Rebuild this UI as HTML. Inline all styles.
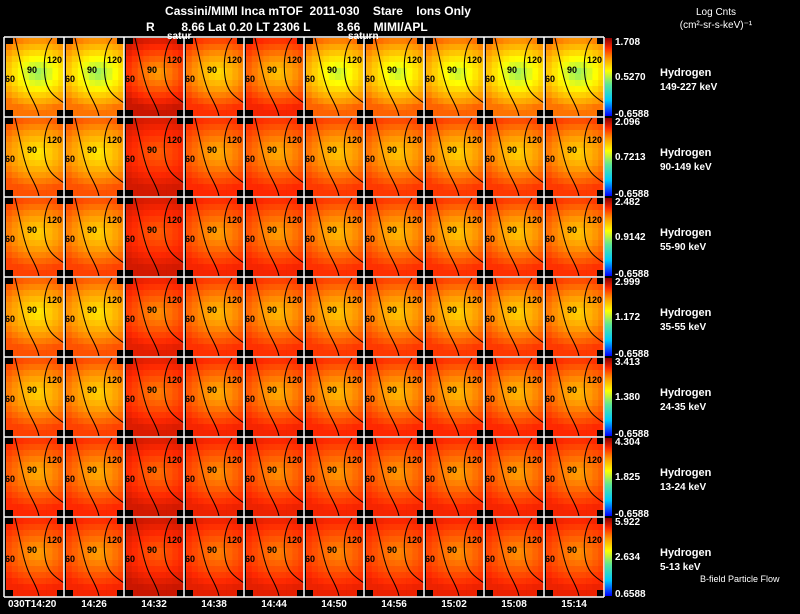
<!DOCTYPE html>
<html><head><meta charset="utf-8"><style>
body{margin:0;background:#000;width:800px;height:609px;overflow:hidden;font-family:"Liberation Sans",sans-serif;}
svg text{font-family:"Liberation Sans",sans-serif;white-space:pre;}
</style></head><body>
<svg id="chart" width="800" height="609" xmlns="http://www.w3.org/2000/svg">
<rect width="800" height="609" fill="#000"/>
<text x="318" y="15" fill="#fff" font-size="12" font-weight="bold" text-anchor="middle">Cassini/MIMI Inca mTOF  2011-030    Stare    Ions Only</text>
<text x="146" y="31" fill="#fff" font-size="12" font-weight="bold">R        8.66 Lat 0.20 LT 2306 L        8.66    MIMI/APL</text>
<text x="716" y="15" fill="#fff" font-size="10" text-anchor="middle">Log Cnts</text>
<text x="716" y="28" fill="#fff" font-size="10" text-anchor="middle">(cm²-sr-s-keV)⁻¹</text>
<g id="panels"></g>
<g id="overlay"></g>
<text x="700" y="582" fill="#fff" font-size="9">B-field Particle Flow</text>
</svg>
<script>
const times=["030T14:20","14:26","14:32","14:38","14:44","14:50","14:56","15:02","15:08","15:14"];
const energies=["149-227 keV","90-149 keV","55-90 keV","35-55 keV","24-35 keV","13-24 keV","5-13 keV"];
const cbTop=["1.708","2.096","2.482","2.999","3.413","4.304","5.922"];
const cbMid=["0.5270","0.7213","0.9142","1.172","1.380","1.825","2.634"];
const cbBot=["-0.6588","-0.6588","-0.6588","-0.6588","-0.6588","-0.6588","0.6588"];
const centerLevel=[
 [0.45,0.45,0.72,0.62,0.66,0.50,0.50,0.50,0.46,0.45],
 [0.60,0.60,0.80,0.70,0.70,0.66,0.66,0.64,0.64,0.64],
 [0.64,0.64,0.80,0.72,0.72,0.68,0.68,0.66,0.66,0.66],
 [0.60,0.61,0.74,0.68,0.68,0.66,0.66,0.64,0.64,0.64],
 [0.64,0.64,0.76,0.70,0.70,0.68,0.68,0.68,0.68,0.68],
 [0.70,0.70,0.78,0.74,0.74,0.73,0.73,0.72,0.72,0.72],
 [0.72,0.72,0.80,0.76,0.76,0.75,0.75,0.74,0.74,0.74]];
const edgeLevel=[
 [0.78,0.78,0.93,0.86,0.88,0.80,0.80,0.80,0.78,0.78],
 [0.82,0.82,0.92,0.87,0.87,0.85,0.85,0.85,0.85,0.85],
 [0.84,0.84,0.92,0.88,0.88,0.86,0.86,0.86,0.86,0.86],
 [0.82,0.82,0.90,0.86,0.86,0.85,0.85,0.85,0.85,0.85],
 [0.84,0.84,0.91,0.88,0.88,0.87,0.87,0.87,0.87,0.87],
 [0.87,0.87,0.92,0.89,0.89,0.88,0.88,0.88,0.88,0.88],
 [0.88,0.88,0.93,0.90,0.90,0.89,0.89,0.89,0.89,0.89]];
const NS="http://www.w3.org/2000/svg";
const X0=5,PW=60,Y0=37,PH=80,NC=10,NR=13;
const stops=[[0,[0,0,255]],[0.2,[0,200,255]],[0.4,[90,230,150]],[0.58,[255,255,0]],[0.74,[255,150,0]],[0.87,[255,40,0]],[1,[140,0,0]]];
function cmap(t){t=Math.max(0,Math.min(1,t));for(let i=1;i<stops.length;i++){if(t<=stops[i][0]){const a=stops[i-1],b=stops[i];const f=(t-a[0])/(b[0]-a[0]);return `rgb(${a[1].map((v,k)=>Math.round(v+(b[1][k]-v)*f)).join(",")})`;}}return "rgb(140,0,0)";}
function el(tag,attrs,parent){const e=document.createElementNS(NS,tag);for(const k in attrs)e.setAttribute(k,attrs[k]);parent.appendChild(e);return e;}
function xPos(c){return X0+c*PW;}
function yPos(r){return Y0+r*PH;}
const g=document.getElementById("panels"),ov=document.getElementById("overlay");
const cw=(PW-2)/NC,ch=(PH-2)/NR;
for(let r=0;r<energies.length;r++){
 for(let c=0;c<times.length;c++){
  const pg=el("g",{},g);
  
  
  const px=xPos(c)+1,py=yPos(r)+1;
  for(let j=0;j<NR;j++)for(let i=0;i<NC;i++){
   const dx=(i+0.5)/NC-0.55,dy=(j+0.5)/NR-0.45;
   const d=Math.min(1,Math.sqrt(dx*dx*1.6+dy*dy*4.5));
   const t=centerLevel[r][c]+(edgeLevel[r][c]-centerLevel[r][c])*d;
   el("rect",{x:(px+i*cw).toFixed(2),y:(py+j*ch).toFixed(2),width:(cw+0.3).toFixed(2),height:(ch+0.3).toFixed(2),fill:cmap(t)},pg);
  }
  [[0,0],[PW-8,0],[0,PH-7],[PW-8,PH-7]].forEach(([a,b])=>el("rect",{x:px-1+a,y:py-1+b,width:8,height:7,fill:"#000"},pg));
  const ox=xPos(c),oy=yPos(r);
  el("path",{d:`M${ox+10} ${oy+1} C${ox+16} ${oy+25},${ox+18} ${oy+45},${ox+26} ${oy+60} S${ox+33} ${oy+76},${ox+34} ${oy+79}`,fill:"none",stroke:"#000","stroke-width":1},pg);
  el("path",{d:`M${ox+47} ${oy+1} C${ox+40} ${oy+10},${ox+38} ${oy+25},${ox+40} ${oy+40} S${ox+50} ${oy+60},${ox+59} ${oy+66}`,fill:"none",stroke:"#000","stroke-width":1},pg);
  [["120",42,26],["90",22,36],["60",0,45]].forEach(([s,a,b])=>{const t=el("text",{x:ox+a,y:oy+b,"font-size":9,fill:"#000","font-weight":"bold"},pg);t.textContent=s;});
 }
 const cy=yPos(r)+1;
 const grad=el("linearGradient",{id:"cb"+r,x1:0,y1:1,x2:0,y2:0},g);
 stops.forEach(s=>el("stop",{offset:s[0],"stop-color":cmap(s[0])},grad));
 const cb=el("rect",{x:605,y:cy,width:7,height:PH-2,fill:`url(#cb${r})`},g);
 
 
 [[cbTop[r],cy+7],[cbMid[r],cy+42],[cbBot[r],cy+79]].forEach(([s,y],k)=>{const t=el("text",{x:615,y:y,"font-size":10,fill:"#fff","font-weight":"bold"},g);t.textContent=s;
  
  });
 const h=el("text",{x:660,y:cy+38,"font-size":11,fill:"#fff","font-weight":"bold"},g);h.textContent="Hydrogen";
 
 
 const e=el("text",{x:660,y:cy+52,"font-size":10,fill:"#fff","font-weight":"bold"},g);e.textContent=energies[r];
 
 
}
for(let c=0;c<=times.length;c++)el("line",{x1:xPos(c)-1,y1:Y0,x2:xPos(c)-1,y2:yPos(energies.length),stroke:"#fff","stroke-width":1.5},ov);
for(let r=0;r<=energies.length;r++)el("line",{x1:X0-1,y1:yPos(r),x2:xPos(times.length)-1,y2:yPos(r),stroke:"#fff","stroke-width":1.5},ov);
times.forEach((s,c)=>{const t=el("text",{x:xPos(c)+(c==0?3:29),y:607,"font-size":10,fill:"#fff","font-weight":"bold","text-anchor":c==0?"start":"middle"},ov);t.textContent=s;
 
 });
[["satur",167],["saturn",348]].forEach(([s,x])=>{const t=el("text",{x:x,y:39,"font-size":10,fill:"#fff","font-weight":"bold"},ov);t.textContent=s;});
</script>
</body></html>
